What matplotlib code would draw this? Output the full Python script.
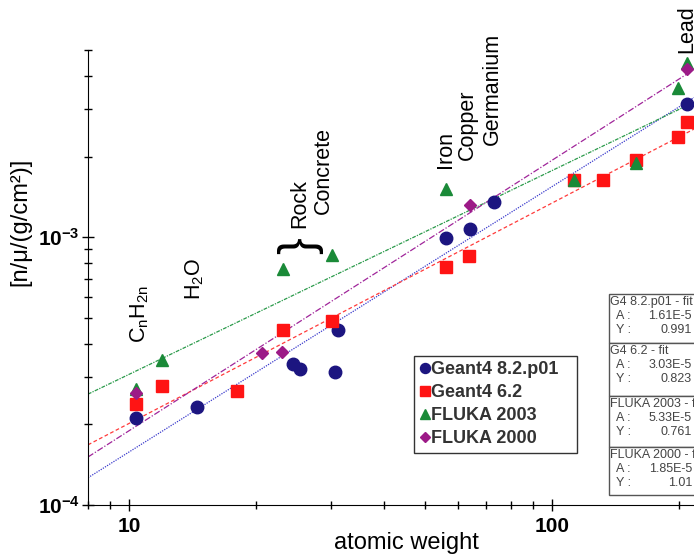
import matplotlib
matplotlib.use("Agg")
import matplotlib.pyplot as plt
import numpy as np
from matplotlib.ticker import FixedLocator, FuncFormatter, NullFormatter
from matplotlib.patches import Rectangle

plt.rcParams['font.family'] = ['Liberation Sans', 'DejaVu Sans']
plt.rcParams['mathtext.fontset'] = 'custom'
plt.rcParams['mathtext.rm'] = 'Liberation Sans'
plt.rcParams['mathtext.bf'] = 'Liberation Sans:bold'

# data
g82_x = [10.4, 14.5, 24.4, 25.4, 30.7, 31.2, 56.1, 63.9, 72.9, 208]
g82_y = [2.11e-4, 2.32e-4, 3.36e-4, 3.21e-4, 3.13e-4, 4.5e-4, 9.9e-4, 1.07e-3, 1.35e-3, 3.13e-3]

g62_x = [10.4, 12.0, 18.0, 23.1, 30.2, 56.1, 63.7, 113, 132, 158, 199, 208]
g62_y = [2.38e-4, 2.78e-4, 2.66e-4, 4.5e-4, 4.87e-4, 7.73e-4, 8.5e-4, 1.63e-3, 1.63e-3, 1.94e-3, 2.36e-3, 2.69e-3]

f03_x = [10.4, 12.0, 23.1, 30.2, 56.1, 113, 158, 199, 208]
f03_y = [2.7e-4, 3.47e-4, 7.6e-4, 8.57e-4, 1.51e-3, 1.64e-3, 1.89e-3, 3.6e-3, 4.46e-3]

f00_x = [10.4, 20.6, 23.0, 63.9, 208]
f00_y = [2.62e-4, 3.69e-4, 3.73e-4, 1.32e-3, 4.24e-3]

series_names = ['Geant4 8.2.p01', 'Geant4 6.2', 'FLUKA 2003', 'FLUKA 2000']
fit_names = ['G4 8.2.p01 - fit', 'G4 6.2 - fit', 'FLUKA 2003 - fit', 'FLUKA 2000 - fit']
fit_A = [1.61e-5, 3.03e-5, 5.33e-5, 1.85e-5]
fit_Y = [0.991, 0.823, 0.761, 1.01]
fit_A_txt = ['1.61E-5', '3.03E-5', '5.33E-5', '1.85E-5']
fit_Y_txt = ['0.991', '0.823', '0.761', '1.01']

materials = ['C$_\\mathregular{n}$H$_\\mathregular{2n}$', 'H$_\\mathregular{2}$O', 'Rock', 'Concrete',
             'Iron', 'Copper', 'Germanium', 'Lead']
mat_x = [10.6, 14.3, 25.4, 28.8, 56.1, 63.2, 72.1, 208]
mat_y = [4.02e-4, 5.82e-4, 1.08e-3, 1.22e-3, 1.81e-3, 1.94e-3, 2.2e-3, 4.86e-3]

xmin, xmax = 8.0, 216.6
ymin, ymax = 1e-4, 5e-3

fig = plt.figure(figsize=(6.94, 5.59), dpi=100)
ax = fig.add_axes([88/694, 1-505/559, 606/694, 455/559])
ax.set_xscale('log')
ax.set_yscale('log')
ax.set_xlim(xmin, xmax)
ax.set_ylim(ymin, ymax)

# fit lines  y = A * x^Y
xx = np.logspace(np.log10(xmin), np.log10(xmax), 200)
line_cols = ['#3a3acc', '#ff3a3a', '#2a9a4a', '#a0259a']
line_styles = [(0, (1, 1)), (0, (3, 2)), (0, (3, 1, 1, 1)), (0, (5, 1.5, 1, 1.5))]
for a, y, c, ls in zip(fit_A, fit_Y, line_cols, line_styles):
    ax.plot(xx, a * xx**y, color=c, ls=ls, lw=0.9, zorder=2)

# markers
ax.plot(g82_x, g82_y, 'o', color='#1c1580', ms=9, ls='none', label=series_names[0], zorder=3)
ax.plot(g62_x, g62_y, 's', color='#ff1414', ms=9, ls='none', label=series_names[1], zorder=3)
ax.plot(f03_x, f03_y, '^', color='#1a8a38', ms=9, ls='none', label=series_names[2], zorder=3)
ax.plot(f00_x, f00_y, 'D', color='#9c1a87', ms=6, ls='none', label=series_names[3], zorder=3)

# material labels
for t, x, y in zip(materials, mat_x, mat_y):
    ax.text(x, y, t, rotation=90, ha='center', va='bottom', fontsize=15.5, zorder=4)
ax.text(25.4, 9.33e-4, '}', rotation=90, ha='center', va='center', fontsize=36)

# axes styling
for s in ['top', 'right']:
    ax.spines[s].set_visible(False)
ax.xaxis.set_major_locator(FixedLocator([10, 100]))
ax.yaxis.set_major_locator(FixedLocator([1e-4, 1e-3]))
ax.xaxis.set_major_formatter(FuncFormatter(lambda v, p: '%d' % round(v)))
ax.yaxis.set_major_formatter(FuncFormatter(
    lambda v, p: r'$\mathbf{10^{%d}}$' % round(np.log10(v))))
ax.xaxis.set_minor_formatter(NullFormatter())
ax.yaxis.set_minor_formatter(NullFormatter())
ax.tick_params(which='both', direction='inout', width=1)
ax.tick_params(which='major', length=8, labelsize=15)
ax.tick_params(which='minor', length=6)
for lab in ax.get_xticklabels() + ax.get_yticklabels():
    lab.set_fontweight('bold')
ax.tick_params(axis='x', pad=5)
ax.tick_params(axis='y', pad=2)

fig.text(406/694, 1-543/559, 'atomic weight', ha='center', va='center', fontsize=17)
fig.text(20/694, 1-222/559, '[n/\u03bc/(g/cm\u00b2)]', rotation=90,
         ha='center', va='center', fontsize=17)

# legend
leg = ax.legend(loc='upper left', bbox_to_anchor=(0.538, 0.3275 - 0.2242, 0.269, 0.2242),
                mode='expand', frameon=True, fancybox=False, edgecolor='black',
                borderaxespad=0, borderpad=0.3, handlelength=0.6, handletextpad=0.05,
                labelspacing=0.33, markerscale=0.8, prop={'weight': 'bold', 'size': 13})
leg.get_frame().set_linewidth(1.0)
for t in leg.get_texts():
    t.set_color('#333333')

# fit parameter boxes (cut off by the right edge, as in the original)
box_tops = [294, 343, 396, 447]
box_bots = [343, 396, 447, 495]
for i in range(4):
    top, bot = box_tops[i], box_bots[i]
    fig.patches.append(Rectangle((609/694, 1-bot/559), 120/694, (bot-top)/559,
                                 transform=fig.transFigure, fill=True, facecolor='white',
                                 edgecolor='#555555', lw=1, zorder=5))
    fig.text(610/694, 1-(top+8)/559, fit_names[i], ha='left', va='center',
             fontsize=9, color='#444444', zorder=6)
    fig.text(616/694, 1-(top+22)/559, 'A :', ha='left', va='center',
             fontsize=9, color='#444444', zorder=6)
    fig.text(692/694, 1-(top+22)/559, fit_A_txt[i], ha='right', va='center',
             fontsize=9, color='#444444', zorder=6)
    fig.text(616/694, 1-(top+36)/559, 'Y :', ha='left', va='center',
             fontsize=9, color='#444444', zorder=6)
    fig.text(692/694, 1-(top+36)/559, fit_Y_txt[i], ha='right', va='center',
             fontsize=9, color='#444444', zorder=6)

fig.savefig('out.png', dpi=100)
